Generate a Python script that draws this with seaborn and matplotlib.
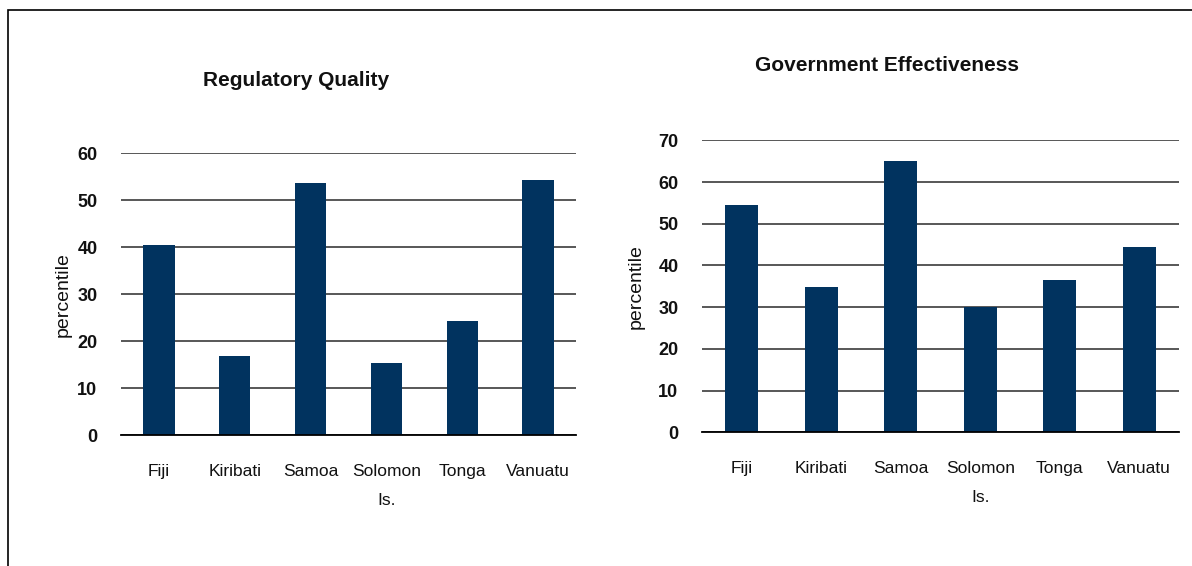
import matplotlib
matplotlib.use("Agg")
import matplotlib.pyplot as plt
from matplotlib import font_manager
from matplotlib.patches import Rectangle
import seaborn as sns
import pandas as pd

countries = ["Fiji", "Kiribati", "Samoa", "Solomon\nIs.", "Tonga", "Vanuatu"]
regulatory_quality = [40.5, 16.9, 53.7, 15.4, 24.3, 54.3]
government_effectiveness = [54.5, 34.8, 65.0, 30.0, 36.5, 44.4]
rq_ticks = [0, 10, 20, 30, 40, 50, 60]
ge_ticks = [0, 10, 20, 30, 40, 50, 60, 70]

sns.set_theme(style="white")
available = {f.name for f in font_manager.fontManager.ttflist}
family = [f for f in ["Liberation Sans Narrow", "Liberation Sans", "DejaVu Sans"] if f in available]
plt.rcParams["font.family"] = family

BAR = "#01335f"
GRID = "#2a2a2a"

fig = plt.figure(figsize=(11.92, 5.66), dpi=100)
W, H = 1192, 566

# outer frame (open on the right and bottom edges)
fig.patches.append(Rectangle((8 / W, -0.1), 1.2, 1 - 10 / H + 0.1,
                             transform=fig.transFigure, fill=False,
                             edgecolor="black", linewidth=1.2))


def panel(rect, values, ticks, title, title_xy, ylabel_pad):
    ax = fig.add_axes(rect)
    df = pd.DataFrame({"country": countries, "value": values})
    sns.barplot(data=df, x="country", y="value", color=BAR, saturation=1,
                width=0.415, linewidth=0, ax=ax)
    ax.set_ylim(ticks[0], ticks[-1])
    ax.set_xlim(-0.5, len(countries) - 0.5)
    ax.set_yticks(ticks)
    ax.set_yticklabels([str(t) for t in ticks], fontsize=13, fontweight="bold",
                       color="#111111")
    ax.tick_params(axis="y", length=0, pad=17)
    ax.tick_params(axis="x", length=0, pad=21, labelsize=12.5, colors="#111111")
    for lbl in ax.get_xticklabels():
        lbl.set_linespacing(2.1)
        lbl.set_verticalalignment("top")
    ax.yaxis.grid(True, color=GRID, linewidth=1.1)
    ax.set_axisbelow(True)
    for s in ["top", "right", "left"]:
        ax.spines[s].set_visible(False)
    ax.spines["bottom"].set_color("black")
    ax.spines["bottom"].set_linewidth(1.3)
    ax.set_xlabel("")
    ax.set_ylabel("percentile", fontsize=14, color="#111111", labelpad=ylabel_pad)
    fig.text(title_xy[0] / W, 1 - title_xy[1] / H, title, ha="center",
             va="center", fontsize=15, fontweight="bold", color="#111111")
    return ax


panel([121 / W, 1 - 435.3 / H, 455 / W, 282 / H], regulatory_quality, rq_ticks,
      "Regulatory Quality", (296, 81), 4)
panel([702 / W, 1 - 432.3 / H, 477 / W, 292 / H], government_effectiveness,
      ge_ticks, "Government Effectiveness", (887, 66), 10)

fig.savefig("out.png", dpi=100)
